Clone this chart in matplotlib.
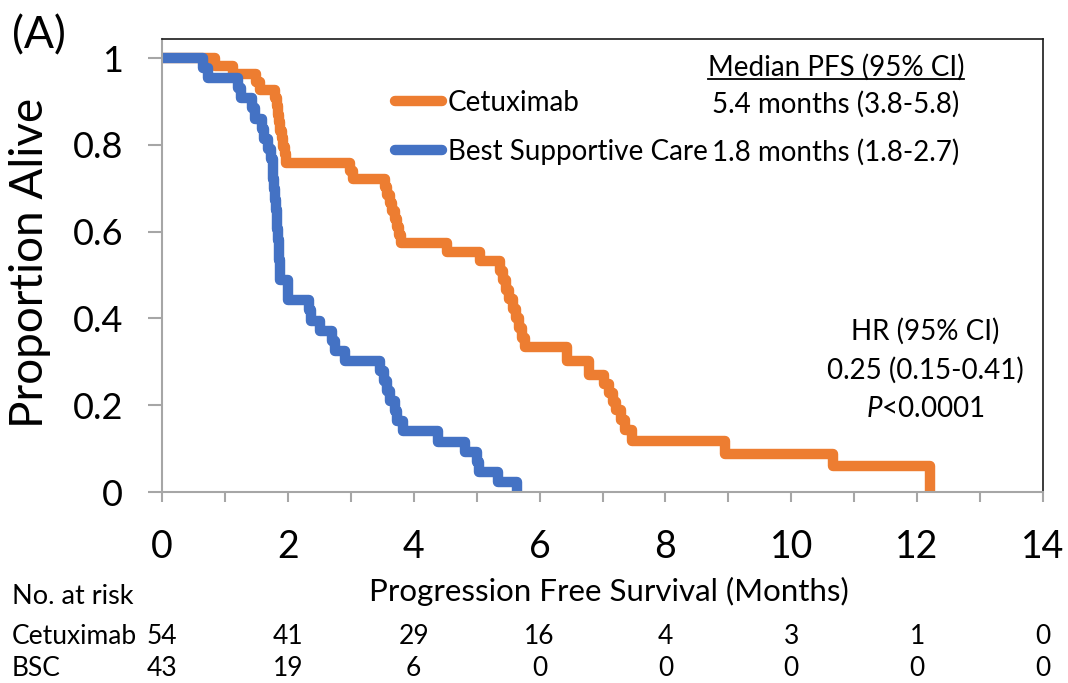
import matplotlib
matplotlib.use("Agg")
import matplotlib.pyplot as plt
from matplotlib.lines import Line2D

plt.rcParams["font.family"] = ["Lato", "DejaVu Sans"]
plt.rcParams["mathtext.fontset"] = "custom"
plt.rcParams["mathtext.rm"] = "Lato"
plt.rcParams["mathtext.it"] = "Lato:italic"

# Kaplan-Meier steps (months, proportion alive)
cet_months = [0, 0.84, 1.13, 1.50, 1.56, 1.80, 1.82, 1.84, 1.86, 1.88, 1.90, 1.93, 1.95, 1.97,
              2.99, 3.04, 3.55, 3.58, 3.62, 3.66, 3.70, 3.73, 3.76, 3.80, 4.53, 5.06,
              5.37, 5.42, 5.47, 5.52, 5.57, 5.62, 5.67, 5.72, 5.77,
              6.44, 6.78, 7.02, 7.10, 7.17, 7.22, 7.30, 7.35, 7.47, 8.95, 10.67, 12.21]
cet_surv = [1.0, 0.981, 0.963, 0.944, 0.926, 0.907, 0.889, 0.870, 0.852, 0.833, 0.815, 0.796, 0.778, 0.759,
            0.740, 0.722, 0.703, 0.685, 0.666, 0.648, 0.629, 0.611, 0.592, 0.574, 0.553, 0.532,
            0.510, 0.488, 0.466, 0.444, 0.422, 0.400, 0.378, 0.356, 0.334,
            0.303, 0.270, 0.250, 0.229, 0.208, 0.190, 0.167, 0.143, 0.117, 0.088, 0.059, 0.0]

bsc_months = [0, 0.65, 0.73, 1.21, 1.25, 1.43, 1.47, 1.59, 1.62, 1.68, 1.74, 1.76, 1.77, 1.78,
              1.80, 1.81, 1.82, 1.83, 1.85, 1.86, 1.86, 1.87, 1.88, 2.00, 2.01, 2.33, 2.36,
              2.51, 2.70, 2.75, 2.91, 3.47, 3.52, 3.57, 3.62, 3.70, 3.73, 3.83, 4.39, 4.82,
              5.00, 5.03, 5.34, 5.64]
bsc_surv = [1.0, 0.977, 0.953, 0.930, 0.907, 0.884, 0.860, 0.837, 0.814, 0.791, 0.767, 0.744, 0.721, 0.698,
            0.674, 0.651, 0.628, 0.605, 0.581, 0.558, 0.535, 0.512, 0.488, 0.465, 0.442, 0.419, 0.395,
            0.372, 0.349, 0.326, 0.302, 0.279, 0.256, 0.233, 0.209, 0.186, 0.163, 0.140, 0.116, 0.093,
            0.070, 0.047, 0.023, 0.0]

risk_months = [0, 2, 4, 6, 8, 10, 12, 14]
cet_at_risk = [54, 41, 29, 16, 4, 3, 1, 0]
bsc_at_risk = [43, 19, 6, 0, 0, 0, 0, 0]

W, H = 1068, 683
fig = plt.figure(figsize=(W / 100, H / 100), dpi=100)
ax = fig.add_axes([162 / W, 1 - 492 / H, (1043 - 162) / W, (492 - 39) / H])

ax.step(cet_months, cet_surv, where="post", color="#ED7D31", lw=7.5,
        solid_joinstyle="round", solid_capstyle="round", label="Cetuximab")
ax.step(bsc_months, bsc_surv, where="post", color="#4472C4", lw=7.5,
        solid_joinstyle="round", solid_capstyle="round", label="Best Supportive Care")

ax.set_xlim(0, 14)
ax.set_ylim(0, 1.044)
ax.set_xticks(range(0, 15, 2))
ax.set_xticks(range(1, 15, 2), minor=True)
ax.set_yticks([0, 0.2, 0.4, 0.6, 0.8, 1.0])
ax.set_yticklabels(["0", "0.2", "0.4", "0.6", "0.8", "1"])
ax.tick_params(axis="x", which="both", length=7, width=1.5, color="#A6A6A6",
               labelsize=27, pad=20)
ax.tick_params(axis="y", length=10, width=1.5, color="#A6A6A6", labelsize=26, pad=18)
for s in ["left", "bottom"]:
    ax.spines[s].set_color("#A6A6A6")
    ax.spines[s].set_linewidth(1.5)
for s in ["top", "right"]:
    ax.spines[s].set_color("#1a1a1a")
    ax.spines[s].set_linewidth(1.2)

ax.legend(loc="upper left", bbox_to_anchor=(395 / W, 1 - 90 / H), bbox_transform=fig.transFigure,
          frameon=False, fontsize=20, handlelength=1.7, handletextpad=0.2,
          labelspacing=0.82, borderpad=0, borderaxespad=0)

fig.text(12 / W, 1 - 36 / H, "(A)", fontsize=32, va="center")
fig.text(30 / W, 1 - 263 / H, "Proportion Alive", rotation=90, fontsize=33, ha="center", va="center")

med = fig.text(836 / W, 1 - 67 / H, "Median PFS (95% CI)", fontsize=20, ha="center", va="center")
fig.text(836 / W, 1 - 104 / H, "5.4 months (3.8-5.8)", fontsize=20, ha="center", va="center")
fig.text(712 / W, 1 - 152 / H, "1.8 months (1.8-2.7)", fontsize=20, ha="left", va="center")
fig.text(925 / W, 1 - 331 / H, "HR (95% CI)", fontsize=20, ha="center", va="center")
fig.text(925 / W, 1 - 370 / H, "0.25 (0.15-0.41)", fontsize=20, ha="center", va="center")
fig.text(925 / W, 1 - 409 / H, "$P$<0.0001", fontsize=20, ha="center", va="center")

fig.canvas.draw()
bb = med.get_window_extent()
fig.add_artist(Line2D([bb.x0, bb.x1], [bb.y0 + 1, bb.y0 + 1], transform=None, color="black", lw=1.3))

fig.text(609 / W, 1 - 591 / H, "Progression Free Survival (Months)", fontsize=22.5, ha="center", va="center")
fig.text(12 / W, 1 - 596 / H, "No. at risk", fontsize=19.5, va="center")
fig.text(12 / W, 1 - 636 / H, "Cetuximab", fontsize=19, va="center")
fig.text(12 / W, 1 - 668 / H, "BSC", fontsize=19, va="center")

row_tr = ax.get_xaxis_transform()
for m, c, b in zip(risk_months, cet_at_risk, bsc_at_risk):
    ax.text(m, -(636 - 492) / (492 - 39), str(c), transform=row_tr, fontsize=19,
            ha="center", va="center", clip_on=False)
    ax.text(m, -(668 - 492) / (492 - 39), str(b), transform=row_tr, fontsize=19,
            ha="center", va="center", clip_on=False)

fig.savefig("out.png", dpi=100)
